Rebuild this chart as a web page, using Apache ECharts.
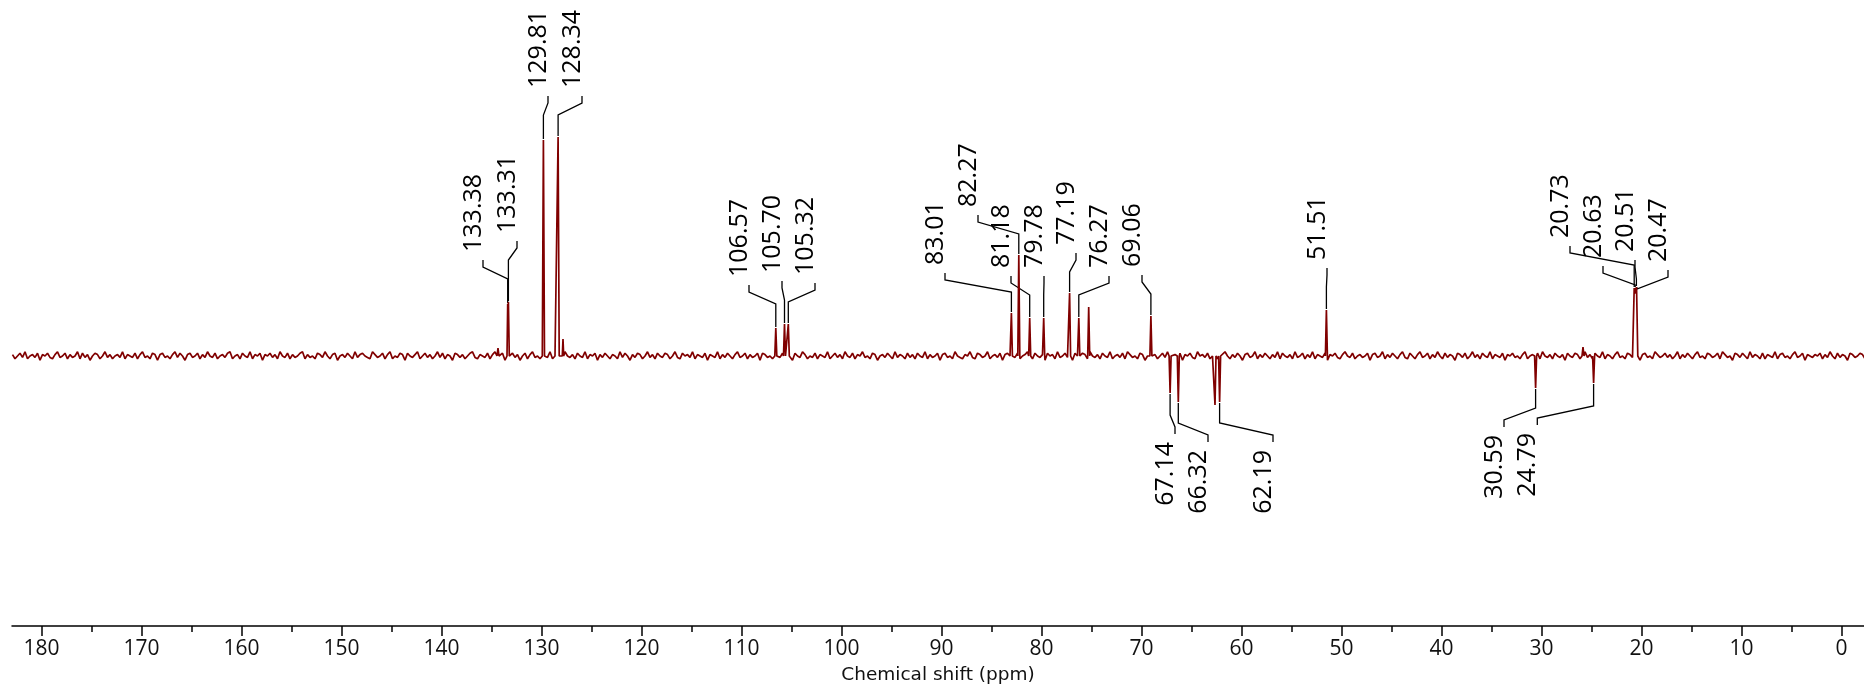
<!DOCTYPE html>
<html>
<head>
<meta charset="utf-8">
<script src="https://cdn.jsdelivr.net/npm/echarts@6/dist/echarts.min.js"></script>
<style>
html,body{margin:0;padding:0;background:#fff;}
#chart{width:1864px;height:691px;}
</style>
</head>
<body>
<div id="chart"></div>
<script>
// ---- axis ----
var axisMin = -2.25;
var axisMax = 182.95;
var majorTicks = [0,10,20,30,40,50,60,70,80,90,100,110,120,130,140,150,160,170,180];
var minorTicks = [5,15,25,35,45,55,65,75,85,95,105,115,125,135,145,155,165,175];
var axisTitle = 'Chemical shift (ppm)';

// ---- resolved lines (vertices: shift ppm, intensity) ----
var lineShift = [134.45,134.35,134.25, 133.45,133.38,133.345,133.31,133.22, 129.92,129.81,129.70, 128.45,128.34,128.23, 127.92,127.85,127.78,
  106.67,106.57,106.47, 105.80,105.70,105.60, 105.42,105.32,105.22,
  83.11,83.01,82.91, 82.37,82.27,82.17, 81.28,81.18,81.08, 79.88,79.78,79.68, 77.29,77.19,77.09, 76.37,76.27,76.17, 75.38,75.28,75.18,
  69.16,69.06,68.96, 67.24,67.14,67.04, 66.42,66.32,66.22, 62.75,62.65,62.55, 62.29,62.19,62.09, 51.61,51.51,51.41,
  30.69,30.59,30.49, 25.95,25.85,25.75, 24.89,24.79,24.69, 20.83,20.73,20.68,20.63,20.57,20.51,20.49,20.47,20.37];
var lineIntensity = [0,8,0, 0,52,47,54,0, 0,216,0, 0,219,0, 0,17,0,
  0,28,0, 0,32,0, 0,32,0,
  0,43,0, 0,101,0, 0,38,0, 0,38,0, 0,63,0, 0,38,0, 0,49,0,
  0,40,0, 0,-37,0, 0,-46,0, 0,-49,0, 0,-46,0, 0,46,0,
  0,-32,0, 0,9,0, 0,-27,0, 0,68,62,68,63,69,66,68,0];

// ---- baseline noise (sampled every 0.25 ppm from 182.9 ppm, in counts) ----
var noiseStart = 182.9;
var noiseStep = 0.25;
var noiseUnit = 1.4; // intensity per noise count
var noise = [
1,-2,0,2,-1,3,-2,0,1,-1,2,-3,1,0,2,-1,-2,1,3,-1,
0,2,-2,1,-1,0,3,-2,2,-1,1,-3,0,2,1,-2,0,3,-1,1,
-2,0,1,-1,3,-2,1,0,-1,2,-2,1,3,-1,0,-2,2,1,-3,1,
2,-1,0,-2,1,3,-1,2,0,-3,1,2,-1,0,2,-2,1,-1,3,0,
-1,2,-2,0,1,-1,2,3,-2,0,1,-2,2,0,-1,3,-2,1,0,2,
-3,1,0,2,-1,1,-2,3,0,-1,2,-2,1,-1,0,2,3,-2,1,-1,
0,-2,2,1,-1,3,0,-2,1,2,-3,0,1,-1,2,0,-2,3,-1,1,
2,0,-1,-2,3,1,-1,0,2,-2,1,3,-2,0,-1,2,1,-3,2,0,
-1,1,3,-2,0,2,-1,1,-2,0,3,-1,2,-2,1,0,-3,2,1,-1,
1,-2,0,2,3,-1,-2,1,0,-1,2,-2,1,3,0,-1,2,-3,0,1,
2,-1,1,-3,0,2,-2,1,3,-1,0,-2,2,1,-1,3,-2,0,1,-1,
-2,3,0,-1,1,-2,2,0,-1,3,-2,1,0,2,-3,1,-1,2,0,-2,
1,0,-2,3,-1,2,0,-3,1,-1,2,1,-2,0,3,-1,1,-2,2,0,
-1,2,1,-2,0,3,-1,-2,2,0,1,-1,3,-2,1,0,-1,2,-3,1,
0,-1,3,-2,1,-1,2,0,-2,1,3,-1,0,2,-2,1,-1,0,2,-3,
2,1,-1,0,-2,3,1,-1,2,-2,0,1,-3,2,0,-1,3,1,-2,0,
-1,2,-2,1,0,-1,3,-2,0,2,-1,1,-2,3,0,-1,2,-2,1,0,
3,-1,0,-2,2,1,-3,0,1,-1,2,0,-2,3,-1,1,0,-2,2,-1,
1,-2,2,0,-1,3,-2,1,-1,0,2,-3,1,2,-1,0,-2,3,0,-1,
-2,1,0,3,-1,-2,2,1,-1,0,3,-2,0,1,-1,2,-3,1,2,0,
1,-1,2,-2,0,1,3,-1,-2,2,0,-1,1,-3,2,0,1,-2,3,-1,
0,2,-1,1,-3,2,0,-1,2,1,-2,3,0,-1,1,-2,2,0,-1,3,
-2,0,1,-1,2,-2,3,1,-1,0,-2,2,1,-3,0,2,-1,1,-2,0,
2,-1,3,-2,0,1,-1,2,-3,1,0,2,-1,-2,3,0,1,-1,2,-2,
0,1,-2,2,-1,3,0,-2,1,-1,2,0,-3,1,2,-1,0,3,-2,1,
-1,2,0,-2,1,-1,3,-2,2,0,-1,1,-2,3,-1,0,2,-2,1,-1,
3,-2,1,0,-1,2,-3,1,0,2,-1,-2,1,3,0,-1,2,-2,0,1,
-1,0,2,-3,1,2,-1,0,3,-2,1,-1,2,0,-2,1,3,-1,-2,2,
0,-2,1,3,-1,0,2,-2,1,-1,3,0,-2,2,-1,1,0,-3,2,1,
-1,2,-2,0,3,-1,1,-2,2,0,-1,3,-2,1,0,-1,2,-3,1,0,
2,-1,0,-2,1,3,-2,0,1,-1,2,-2,3,0,-1,1,-2,2,0,-1,
1,-3,2,0,-1,2,1,-2,0,3,-1,1,-2,2,0,-1,3,-2,1,0,
-2,1,3,-1,0,-2,2,1,-1,0,2,-3,1,2,-1,0,-2,3,1,-1,
0,2,-1,1,-2,0,3,-2,1,-1,2,0,-2,1,3,-1,0,-2,2,1,
-1,0,2,-2,3,1,-1,0,-3,2,1,-1,2,0,-2,3,-1,1,0,-2,
2,-2,1,0,-1,3,-2,1,2,-1,0,-2,1,3,-1,0,2,-3,1,0,
-1,1,0,2,-2,1,-1,3,0,-2,2,-1,1,0,-3,2,1,-1,0,2,
1,-2,3,-1,0,2,-1,-2,1,0,3,-2,1,-1,2,0,-2,1,-1,0
];

// ---- peak labels ----
var labelText = ['133.38','133.31','129.81','128.34','106.57','105.70','105.32','83.01','82.27','81.18','79.78','77.19','76.27','69.06','51.51','20.73','20.63','20.51','20.47','67.14','66.32','62.19','30.59','24.79'];
var labelPeak = [133.38,133.31,129.81,128.34,106.57,105.70,105.32,83.01,82.27,81.18,79.78,77.19,76.27,69.06,51.51,20.73,20.63,20.51,20.47,67.14,66.32,62.19,30.59,24.79];
var labelPeakIntensity = [52,54,216,219,28,32,32,43,101,38,38,63,38,40,46,68,68,69,68,-37,-46,-46,-32,-27];
var labelShift = [135.85,132.45,129.35,125.95,109.25,105.95,102.65,89.65,86.35,83.05,79.75,76.55,73.25,69.95,51.45,27.15,23.85,20.65,17.35,66.65,63.35,56.85,33.75,30.42];
var labelLevel = [104,123,268,268,79,83,81,91,149,88,88,111,88,89,96,118,98,104,94,-86,-94,-94,-79,-77];

// ---- build series data ----
var spans = [], st = null, i;
for (i = 0; i < lineShift.length; i++) {
  if (lineIntensity[i] === 0) {
    if (st === null) st = lineShift[i];
    else { spans.push([lineShift[i], st]); st = null; }
  }
}
var pts = [];
for (i = 0; i < noise.length; i++) {
  var x = +(noiseStart - i * noiseStep).toFixed(3);
  var inside = false;
  for (var k = 0; k < spans.length; k++) {
    if (x >= spans[k][0] && x <= spans[k][1]) { inside = true; break; }
  }
  if (!inside) pts.push([x, noise[i] * noiseUnit]);
}
for (i = 0; i < lineShift.length; i++) pts.push([lineShift[i], lineIntensity[i]]);
pts.sort(function (a, b) { return b[0] - a[0]; });

var labelData = [];
for (i = 0; i < labelText.length; i++) {
  labelData.push([labelPeak[i], labelPeakIntensity[i], labelShift[i], labelLevel[i]]);
}

var labelFont = '"Open Sans","Noto Sans",sans-serif';
var chart = echarts.init(document.getElementById('chart'), null, {renderer: 'canvas'});
chart.setOption({
  animation: false,
  backgroundColor: '#fff',
  grid: {left: 12, right: 0, top: 0, bottom: 65, containLabel: false},
  xAxis: [{
    type: 'value', min: axisMin, max: axisMax, inverse: true, position: 'bottom',
    axisLine: {show: true, onZero: false, lineStyle: {color: '#000', width: 1.5}},
    axisTick: {show: true, length: 10, customValues: majorTicks, lineStyle: {color: '#000', width: 1.5}},
    axisLabel: {show: true, customValues: majorTicks, margin: 13, fontSize: 21, fontFamily: labelFont, color: '#111'},
    splitLine: {show: false},
    name: axisTitle, nameLocation: 'middle', nameGap: 40,
    nameTextStyle: {fontSize: 18.5, fontFamily: 'DejaVu Sans', color: '#111'}
  }, {
    type: 'value', min: axisMin, max: axisMax, inverse: true, position: 'bottom', offset: 0,
    axisLine: {show: false, onZero: false},
    axisTick: {show: true, length: 6, customValues: minorTicks, lineStyle: {color: '#000', width: 1.5}},
    axisLabel: {show: false},
    splitLine: {show: false}
  }],
  yAxis: {type: 'value', min: -270, max: 356, show: false, splitLine: {show: false}},
  series: [{
    type: 'line', xAxisIndex: 0, data: pts, showSymbol: false, symbol: 'none',
    lineStyle: {color: '#800000', width: 1.7}, clip: true, silent: true
  }, {
    type: 'custom', xAxisIndex: 0, data: labelData, clip: false, silent: true,
    encode: {x: 0, y: 1},
    renderItem: function (params, api) {
      var idx = params.dataIndex;
      var p = api.coord([api.value(0), api.value(1)]);
      var l = api.coord([api.value(2), api.value(3)]);
      var s = api.value(3) > 0 ? 1 : -1;
      var T = l[1];
      var poly = [[l[0], T + s * 8], [l[0], T + s * 15], [p[0], T + s * 27], [p[0], p[1] - s * 1]];
      return {
        type: 'group',
        children: [{
          type: 'polyline', shape: {points: poly},
          style: {stroke: '#000', lineWidth: 1.3, fill: null}
        }, {
          type: 'text', x: l[0] - 9, y: T, rotation: Math.PI / 2,
          style: {text: labelText[idx], fill: '#000', fontSize: 25, fontFamily: labelFont,
            align: s > 0 ? 'left' : 'right', verticalAlign: 'middle'}
        }]
      };
    }
  }]
});
</script>
</body>
</html>
